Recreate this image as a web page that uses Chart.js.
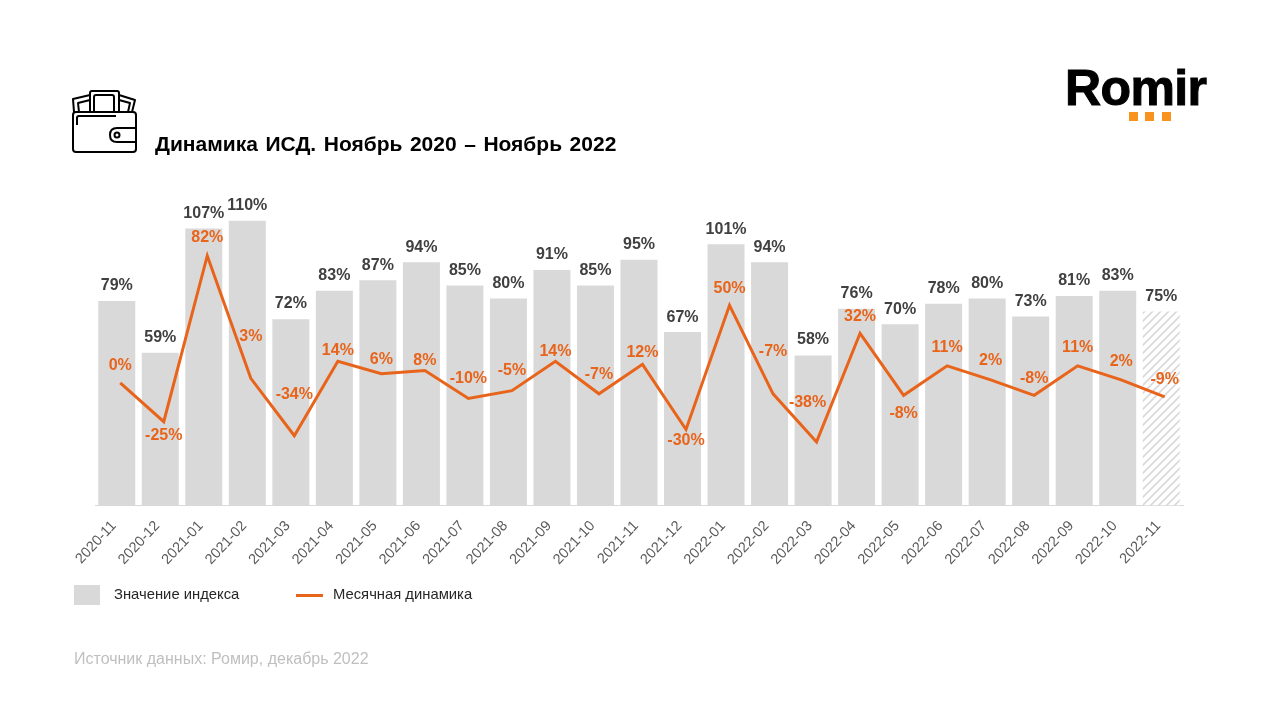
<!DOCTYPE html>
<html lang="ru">
<head>
<meta charset="utf-8">
<title>Динамика ИСД</title>
<script src="https://cdn.jsdelivr.net/npm/chart.js@4"></script>
<style>
    html, body { margin: 0; padding: 0; background: #fff; }
    #page { position: relative; width: 1280px; height: 720px; overflow: hidden; font-family: "Liberation Sans", Arial, sans-serif; }
    #page canvas { position: absolute; left: 0; top: 0; }
    .txt { position: absolute; white-space: nowrap; }
    #title { left: 155px; top: 132px; font-size: 21px; font-weight: bold; color: #000; word-spacing: 1.7px; }
    #logo { left: 1065px; top: 56px; font-size: 50px; line-height: 64px; font-weight: bold; color: #000; letter-spacing: -0.6px; -webkit-text-stroke: 1px #000; }
    .dot { position: absolute; top: 112px; width: 9px; height: 9px; background: #f7931e; }
    #sw-bar { position: absolute; left: 74px; top: 585px; width: 26px; height: 20px; background: #d9d9d9; }
    #sw-line { position: absolute; left: 296px; top: 594px; width: 27px; height: 3px; background: #e8641b; }
    .leg { top: 586px; font-size: 14.8px; color: #262626; }
    #source { left: 74px; top: 650px; font-size: 16px; color: #bfbfbf; }
    #wallet { position: absolute; left: 70px; top: 88px; }
</style>
</head>
<body>
<div id="page">
    <canvas id="chart" width="1280" height="720"></canvas>

    <svg id="wallet" width="70" height="68" viewBox="0 0 70 68" fill="none" stroke="#000" stroke-width="2" stroke-linejoin="round">
        <rect x="3" y="24" width="63" height="40" rx="3"/>
        <path d="M7 37 V30 Q7 28 9 28 H46"/>
        <path d="M66 40 H47 Q40 40 40 47 Q40 54 47 54 H66"/>
        <circle cx="47" cy="47" r="2.5"/>
        <path d="M4 24 L3 11 L20 7"/>
        <path d="M20 24 V5 Q20 3 22 3 H47 Q49 3 49 5 V24"/>
        <path d="M24 24 V9 Q24 7 26 7 H42 Q44 7 44 9 V24"/>
        <path d="M49 7 L65 12 L62 24"/>
        <path d="M9 24 L8 15 L20 12"/>
        <path d="M49 12 L60 15 L58 24"/>
    </svg>

    <div id="title" class="txt">Динамика ИСД. Ноябрь 2020 – Ноябрь 2022</div>

    <div id="logo" class="txt">Romir</div>
    <div class="dot" style="left:1129px"></div>
    <div class="dot" style="left:1145px"></div>
    <div class="dot" style="left:1162px"></div>

    <div id="sw-bar"></div>
    <div class="txt leg" style="left:114px">Значение индекса</div>
    <div id="sw-line"></div>
    <div class="txt leg" style="left:333px">Месячная динамика</div>

    <div id="source" class="txt">Источник данных: Ромир, декабрь 2022</div>
</div>

<script>
const months = ['2020-11', '2020-12', '2021-01', '2021-02', '2021-03', '2021-04', '2021-05', '2021-06', '2021-07',
    '2021-08', '2021-09', '2021-10', '2021-11', '2021-12', '2022-01', '2022-02', '2022-03', '2022-04', '2022-05',
    '2022-06', '2022-07', '2022-08', '2022-09', '2022-10', '2022-11'];
const indexValues = [79, 59, 107, 110, 72, 83, 87, 94, 85, 80, 91, 85, 95, 67, 101, 94, 58, 76, 70, 78, 80, 73, 81, 83, 75];
const monthlyChange = [0, -25, 82, 3, -34, 14, 6, 8, -10, -5, 14, -7, 12, -30, 50, -7, -38, 32, -8, 11, 2, -8, 11, 2, -9];

// hand placed so the labels sit where they do in the slide
const barLabelShift = [[0, -15], [0, -15], [0, -15], [0, -15], [0, -16], [0, -15], [0, -15], [0, -15], [0, -15],
    [0, -15], [0, -15], [0, -15], [0, -15], [0, -15], [0, -15], [0, -15], [0, -16], [0, -15], [0, -15],
    [0, -15], [0, -15], [0, -15], [0, -15], [0, -15], [0, -15]];
const lineLabelShift = [[0, -17], [0, 14], [0, -18], [0, -42], [0, -41], [0, -11], [0, -14], [0, -10], [0, -20],
    [0, -20], [0, -10], [0, -19], [0, -12], [0, 11], [0, -17], [0, -42], [-9, -39], [0, -17], [0, 18],
    [0, -18], [0, -19], [0, -17], [0, -18], [0, -18], [0, -17]];

const BAR_GREY = '#d9d9d9';
const ORANGE = '#e8641b';

function hatch() {
    const c = document.createElement('canvas');
    c.width = 8;
    c.height = 8;
    const g = c.getContext('2d');
    g.fillStyle = '#fff';
    g.fillRect(0, 0, 8, 8);
    g.strokeStyle = BAR_GREY;
    g.lineWidth = 1.7;
    g.beginPath();
    g.moveTo(-2, 2); g.lineTo(2, -2);
    g.moveTo(-2, 10); g.lineTo(10, -2);
    g.moveTo(6, 10); g.lineTo(10, 6);
    g.stroke();
    return g.createPattern(c, 'repeat');
}

// Chart.js has no data labels of its own, so they are drawn here
const valueLabels = {
    id: 'valueLabels',
    afterDatasetsDraw(chart) {
        const ctx = chart.ctx;
        const bars = chart.getDatasetMeta(0).data;
        const points = chart.getDatasetMeta(1).data;
        ctx.save();
        ctx.textAlign = 'center';
        ctx.textBaseline = 'middle';
        ctx.font = 'bold 16px "Liberation Sans"';
        ctx.fillStyle = '#404040';
        bars.forEach((bar, i) => {
            ctx.fillText(indexValues[i] + '%', bar.x + barLabelShift[i][0], bar.y + barLabelShift[i][1]);
        });
        ctx.fillStyle = ORANGE;
        points.forEach((pt, i) => {
            ctx.fillText(monthlyChange[i] + '%', pt.x + lineLabelShift[i][0], pt.y + lineLabelShift[i][1]);
        });
        ctx.restore();
    }
};

new Chart(document.getElementById('chart'), {
    data: {
        labels: months,
        datasets: [
            {
                type: 'bar',
                label: 'Значение индекса',
                data: indexValues,
                backgroundColor: months.map((m, i) => i === months.length - 1 ? hatch() : BAR_GREY),
                categoryPercentage: 1,
                barPercentage: 0.85,
                grouped: false,
                xAxisID: 'x',
                yAxisID: 'y',
                order: 2
            },
            {
                type: 'line',
                label: 'Месячная динамика',
                data: monthlyChange.map((v, i) => ({ x: i, y: v })),
                borderColor: ORANGE,
                borderWidth: 3,
                pointRadius: 0,
                tension: 0,
                xAxisID: 'xLine',
                yAxisID: 'yLine',
                order: 1
            }
        ]
    },
    options: {
        responsive: false,
        animation: false,
        layout: { padding: { left: 95, right: 97, top: 196, bottom: 105.5 } },
        plugins: { legend: { display: false }, tooltip: { enabled: false } },
        scales: {
            x: {
                type: 'category',
                grid: { display: false, drawTicks: false },
                border: { color: BAR_GREY, width: 1 },
                ticks: { color: '#595959', font: { family: 'Liberation Sans', size: 14.5 }, minRotation: 47, maxRotation: 47, padding: 12, labelOffset: -3, autoSkip: false },
                afterFit: (s) => { s.height = 109; }
            },
            // the line sits a little right of the bar centres in the slide
            xLine: { type: 'linear', display: false, min: -0.58, max: 24.42 },
            y: { display: false, min: 0, max: 119.6 },
            yLine: { display: false, min: -79, max: 120.5 }
        }
    },
    plugins: [valueLabels]
});
</script>
</body>
</html>
